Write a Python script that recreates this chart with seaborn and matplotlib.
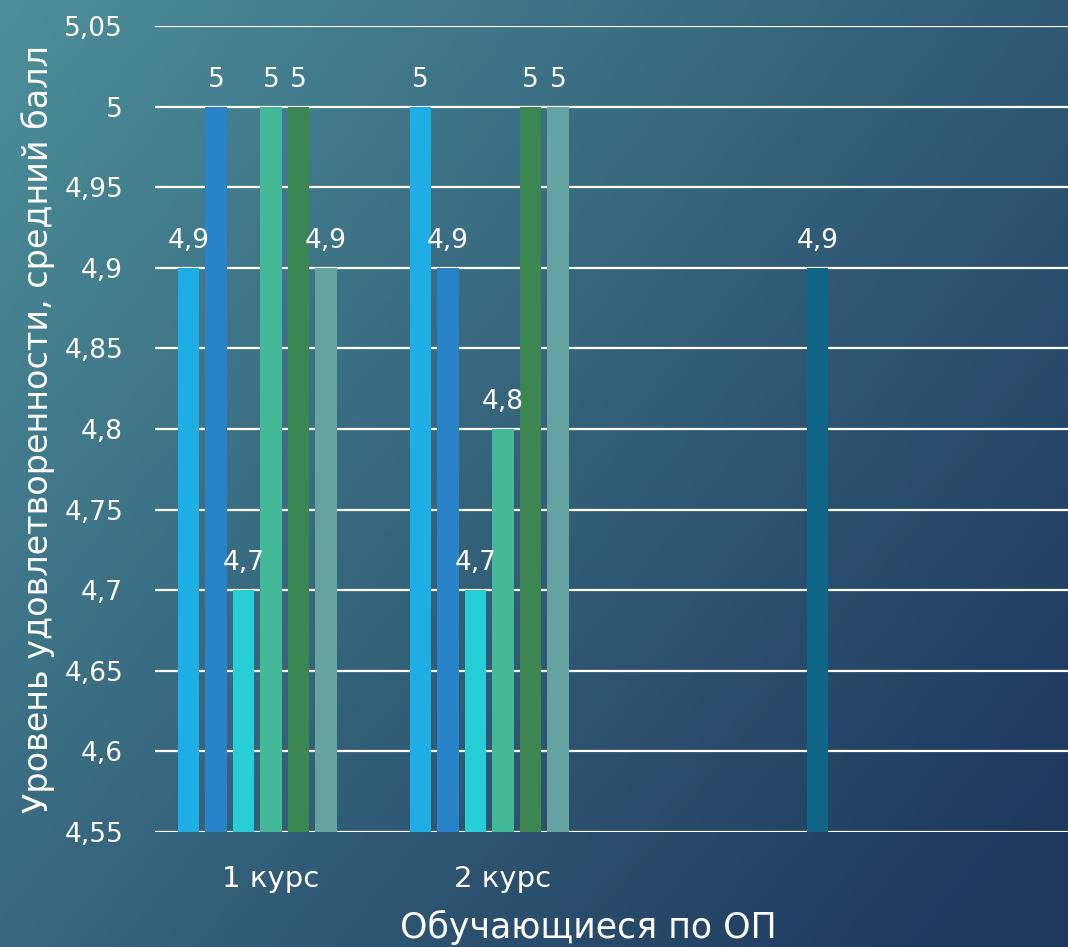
import numpy as np
import matplotlib
matplotlib.use('Agg')
import matplotlib.pyplot as plt
import seaborn as sns
import pandas as pd

categories = ['1 курс', '2 курс', '']
series = ['Серия 1', 'Серия 2', 'Серия 3', 'Серия 4', 'Серия 5', 'Серия 6', 'Серия 7']
s1 = [4.9, 5.0, np.nan]
s2 = [5.0, 4.9, np.nan]
s3 = [4.7, 4.7, np.nan]
s4 = [5.0, 4.8, np.nan]
s5 = [5.0, 5.0, np.nan]
s6 = [4.9, 5.0, np.nan]
s7 = [np.nan, np.nan, 4.9]
colors = ['#1eaee6', '#2883c8', '#27ced8', '#43b997', '#3c8652', '#64a39f', '#0f6686']

rows = []
for name, vals in zip(series, [s1, s2, s3, s4, s5, s6, s7]):
    for cat, v in zip(categories, vals):
        rows.append({'Курс': cat, 'Серия': name, 'Балл': v})
df = pd.DataFrame(rows).dropna()

sns.set_style('white')
plt.rcParams['font.family'] = ['DejaVu Sans']

fig = plt.figure(figsize=(10.68, 9.47), dpi=100)

# gradient background
bg = fig.add_axes([0, 0, 1, 1], zorder=0)
gx, gy = np.meshgrid(np.linspace(0, 1, 300), np.linspace(0, 1, 300))
t = np.clip(0.62 * gx + 0.45 * gy, 0, 1)
c0 = np.array([76, 143, 153]) / 255
c1 = np.array([30, 56, 94]) / 255
img = c0[None, None, :] * (1 - t[..., None]) + c1[None, None, :] * t[..., None]
bg.imshow(img, aspect='auto', extent=[0, 1, 0, 1], origin='upper')
bg.axis('off')

ax = fig.add_axes([155 / 1068, 115 / 947, 1 - 155 / 1068, (832 - 26) / 947], zorder=1)
ax.patch.set_alpha(0)

sns.barplot(data=df, x='Курс', y='Балл', hue='Серия', order=categories, hue_order=series,
            palette=colors, width=0.83, gap=0.22, errorbar=None, legend=False,
            saturation=1, linewidth=0, ax=ax, zorder=3)

ax.set_ylim(4.55, 5.05)
ax.set_xlim(-0.5, 3.435)
ticks = [4.55, 4.6, 4.65, 4.7, 4.75, 4.8, 4.85, 4.9, 4.95, 5.0, 5.05]
ax.set_yticks(ticks)
ax.set_yticklabels([f'{v:g}'.replace('.', ',') for v in ticks])
ax.grid(axis='y', color='white', linewidth=1.6, zorder=1)
ax.set_axisbelow(True)
for s in ax.spines.values():
    s.set_visible(False)
ax.tick_params(colors='white', length=0)
ax.tick_params(axis='y', labelsize=19, pad=23)
ax.tick_params(axis='x', labelsize=21, pad=24)

for c in ax.containers:
    ax.bar_label(c, labels=[f'{v:g}'.replace('.', ',') for v in c.datavalues],
                 color='white', fontsize=19, padding=10)

ax.set_xlabel('Обучающиеся по ОП', color='white', fontsize=25, labelpad=12)
ax.xaxis.label.set_x((588 - 155) / 913)
ax.set_ylabel('Уровень удовлетворенности, средний балл', color='white', fontsize=24, labelpad=7)

fig.savefig('out.png', dpi=100)
